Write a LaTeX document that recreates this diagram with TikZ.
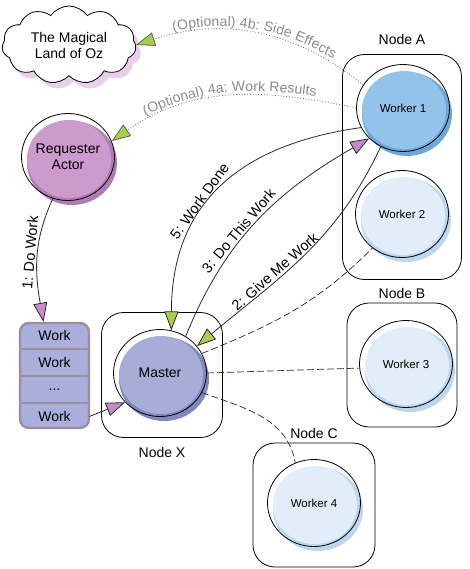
\documentclass[tikz,border=0pt]{standalone}
\usepackage{fontspec}
\setmainfont{Liberation Sans}
\usetikzlibrary{arrows.meta, positioning, shapes.geometric, shapes.symbols, shadows, backgrounds, decorations.text}

\definecolor{reqlight}{HTML}{CC9ACC}
\definecolor{reqdark}{HTML}{B07CB6}
\definecolor{wonelight}{HTML}{94C3E9}
\definecolor{wonedark}{HTML}{6EA8D9}
\definecolor{wlight}{HTML}{E1EDF8}
\definecolor{wdark}{HTML}{BCD7EE}
\definecolor{mlight}{HTML}{A8ADD8}
\definecolor{mdark}{HTML}{7F88BF}
\definecolor{ozpink}{HTML}{E9D0EA}
\definecolor{qfill}{HTML}{A9AEDA}
\definecolor{qborder}{HTML}{9C8E9C}
\definecolor{tipgreen}{HTML}{A6CF4F}
\definecolor{tippink}{HTML}{C78BC9}
\definecolor{optgray}{HTML}{8A8A8A}
\definecolor{optline}{HTML}{606060}
\definecolor{wire}{HTML}{2A2A2A}

\newcommand{\optfont}{\fontsize{14}{16}\selectfont\color{optgray}}

\begin{document}
\begin{tikzpicture}[x=1pt,y=-1pt,line width=0.8pt]
    \tikzstyle{lbl}=[font=\fontsize{14}{16}\selectfont]
    \tikzstyle{msglbl}=[font=\fontsize{14.5}{16}\selectfont, inner sep=2pt, text=black]
    \tikzstyle{host}=[draw, rounded corners=22pt]
    \tikzstyle{actor}=[ellipse, draw, minimum width=93pt, minimum height=87pt, inner sep=0pt, align=center, lbl]
    \tikzstyle{worker}=[actor, font=\fontsize{11.5}{13}\selectfont]
    \tikzstyle{queue}=[draw=qborder, fill=qfill, line width=2.4pt, rounded corners=9pt, minimum width=69pt, minimum height=105pt]
    \tikzstyle{qrow}=[minimum width=69pt, minimum height=26.25pt, inner sep=0pt, lbl]
    \tikzstyle{msg}=[draw=wire, line width=0.8pt]
    \tikzstyle{ping}=[dash pattern=on 7pt off 3pt, line width=0.7pt]
    \tikzstyle{optional}=[draw=optline, dotted, line width=0.8pt]
    \tikzstyle{greentip}=[-{Triangle[length=19pt,width=14pt,fill=tipgreen]}]
    \tikzstyle{pinktip}=[-{Triangle[length=19pt,width=14pt,fill=tippink]}]

    \useasboundingbox (0,0) rectangle (470,569);

    % hosts
    \node[host, minimum width=119pt, minimum height=225pt, label={[lbl, yshift=6pt]above:Node A}] (hostA) at (402,167) {};
    \node[host, minimum width=110pt, minimum height=124pt, label={[lbl]above:Node B}] (hostB) at (402,365) {};
    \node[host, minimum width=122pt, minimum height=124pt, label={[lbl]above:Node C}] (hostC) at (314,505) {};
    \node[host, minimum width=121pt, minimum height=125pt, label={[lbl, yshift=-6pt]below:Node X}] (hostX) at (162,375) {};

    % actors
    \node[actor]  (req) at (68,157)  {Requester\\Actor};
    \node[actor]  (m)   at (160,373) {Master};
    \node[worker] (w1)  at (403,108) {Worker 1};
    \node[worker] (w2)  at (402,214) {Worker 2};
    \node[worker] (w3)  at (406,364) {Worker 3};
    \node[worker] (w4)  at (314,503) {Worker 4};

    \begin{scope}[on background layer]
    \foreach \n/\lt/\dk in {req/reqlight/reqdark, m/mlight/mdark, w1/wonelight/wonedark,
                            w2/wlight/wdark, w3/wlight/wdark, w4/wlight/wdark} {
        \fill[\dk] ([shift={(4,6)}]\n.center) ellipse[x radius=45pt, y radius=42pt];
        \fill[\lt] ([shift={(1,2)}]\n.center) ellipse[x radius=42pt, y radius=39pt];
    }
    \end{scope}

    % the land of oz
    \node[cloud, cloud puffs=11, cloud puff arc=110, aspect=1.7, draw, fill=white,
          minimum width=134pt, minimum height=78pt, inner sep=0pt, align=center, lbl,
          drop shadow={shadow xshift=5pt, shadow yshift=-6pt, fill=ozpink, opacity=1}]
          (oz) at (69,45) {The Magical\\Land of Oz};

    % work queue
    \node[queue] (queue) at (54.5,375.5) {};
    \node[qrow, below=0pt of queue.north] (q1) {Work};
    \node[qrow, below=0pt of q1] (q2) {Work};
    \node[qrow, below=0pt of q2] (q3) {...};
    \node[qrow, below=0pt of q3] (q4) {Work};
    \foreach \r in {q1,q2,q3}
        \draw[qborder, line width=2.2pt] (\r.south west) -- (\r.south east);

    % messages
    \path[msg]
        (req.250) edge[pinktip, out=245, in=100] node[msglbl, above, sloped, pos=0.45] {1: Do Work} ([xshift=-11pt]queue.north)
        (q4.east) edge[pinktip] (m.220)
        (m.55)    edge[pinktip, out=68, in=210] node[msglbl, above, sloped, pos=0.42] {3: Do This Work} (w1.222)
        (w1.240)  edge[greentip, out=245, in=40] node[msglbl, above, sloped, pos=0.62] {2: Give Me Work} (m.36)
        (w1.205)  edge[greentip, out=188, in=90, looseness=1.15] node[msglbl, above, sloped, pos=0.58] {5: Work Done} (m.75);

    % pings to the workers
    \path[msg, ping]
        (m.25)  edge[out=22, in=225] (w2.229)
        (m.0)   edge (w3.185)
        (m.335) edge[out=-20, in=100] (w4.115);

    % optional results
    \draw[optional, greentip, postaction={decorate, decoration={text along path, reverse path,
          text align=center, raise=4pt, text={|\optfont|(Optional) 4a: Work Results}}}]
        (w1.180) to[out=168, in=35] (req.20);
    \draw[optional, greentip, postaction={decorate, decoration={text along path, reverse path,
          text align=center, raise=4pt, text={|\optfont|(Optional) 4b: Side Effects}}}]
        (w1.150) to[out=141, in=18] (oz.east);
\end{tikzpicture}
\end{document}
